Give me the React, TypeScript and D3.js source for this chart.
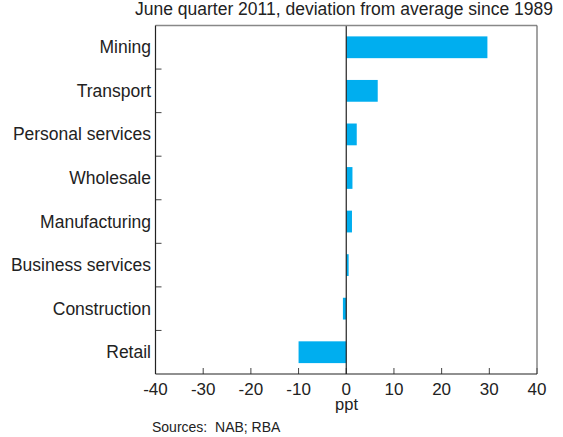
import React from "react";
import * as d3 from "d3";

const categories = ["Mining", "Transport", "Personal services", "Wholesale", "Manufacturing", "Business services", "Construction", "Retail"];
const values = [29.6, 6.6, 2.2, 1.3, 1.2, 0.5, -0.7, -10];
const xTicks = [-40, -30, -20, -10, 0, 10, 20, 30, 40];
const title = "June quarter 2011, deviation from average since 1989";
const xLabel = "ppt";
const source = "Sources:\u00a0\u00a0NAB; RBA";

export default function App() {
  const W = 563, H = 437;
  const left = 155.5, right = 537, top = 25.5, bottom = 374;
  const x = d3.scaleLinear().domain([-40, 40]).range([left, right]);
  const y = d3.scaleBand().domain(categories).range([top, bottom]).paddingInner(0.5).paddingOuter(0.25);
  const yb = d3.scaleBand().domain(categories).range([top, bottom]);
  const font = "Arial, 'Liberation Sans', sans-serif";
  return (
    <svg width={W} height={H} style={{ position: "absolute", left: 0, top: 0 }} fontFamily={font}>
      <rect x={0} y={0} width={W} height={H} fill="#fff" />
      <text x={344} y={15} textAnchor="middle" fontSize={17.5} fill="#222">{title}</text>
      {categories.map((c, i) => {
        const v = values[i];
        return (
          <rect key={c} x={x(Math.min(0, v))} y={y(c)!} width={Math.abs(x(v) - x(0))} height={y.bandwidth()} fill="#00AEEF" />
        );
      })}
      {categories.map((c) => (
        <text key={c} x={151} y={yb(c)! + yb.bandwidth() / 2 + 6} textAnchor="end" fontSize={17.5} fill="#222">{c}</text>
      ))}
      {categories.slice(1).map((c) => (
        <line key={c} x1={left} x2={left + 6} y1={yb(c)!} y2={yb(c)!} stroke="#444" strokeWidth={1} />
      ))}
      {xTicks.map((t) => (
        <g key={t}>
          <line x1={x(t)} x2={x(t)} y1={bottom} y2={bottom - 6} stroke="#444" strokeWidth={1} />
          <text x={x(t)} y={394.5} textAnchor="middle" fontSize={17} fill="#222">{t}</text>
        </g>
      ))}
      <line x1={x(0)} x2={x(0)} y1={top} y2={bottom} stroke="#222" strokeWidth={1.2} />
      <line x1={left} x2={right} y1={top} y2={top} stroke="#888" strokeWidth={1.3} />
      <line x1={right} x2={right} y1={top} y2={bottom} stroke="#666" strokeWidth={1.2} />
      <line x1={left} x2={left} y1={top} y2={bottom} stroke="#222" strokeWidth={1.2} />
      <line x1={left} x2={right} y1={bottom} y2={bottom} stroke="#222" strokeWidth={1.2} />
      <text x={346.5} y={410} textAnchor="middle" fontSize={16.5} fill="#222">{xLabel}</text>
      <text x={152} y={431.5} fontSize={14} fill="#222">{source}</text>
    </svg>
  );
}
